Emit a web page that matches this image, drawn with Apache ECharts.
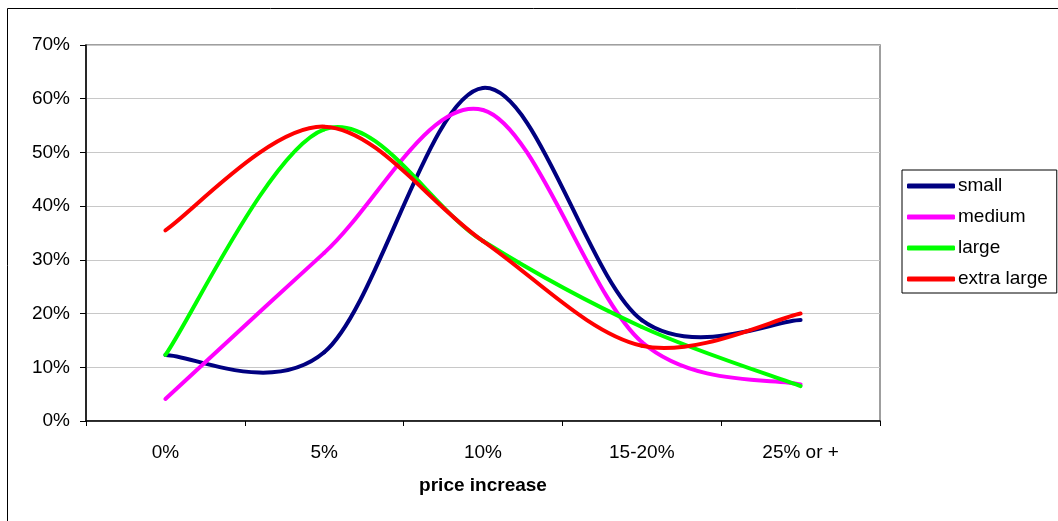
<!DOCTYPE html>
<html>
<head>
<meta charset="utf-8">
<script src="https://cdn.jsdelivr.net/npm/echarts@6/dist/echarts.min.js"></script>
<style>
  html, body { margin: 0; padding: 0; background: #fff; }
  #chart { width: 1058px; height: 521px; }
</style>
</head>
<body>
<div id="chart"></div>
<script>
// Share of respondents by price increase, per company size (percent)
const categories = ['0%', '5%', '10%', '15-20%', '25% or +'];
const small      = [12.3, 12.8, 62.0, 18.8, 18.8];
const medium     = [4.1, 31.3, 57.9, 14.7, 6.8];
const large      = [12.3, 54.3, 33.5, 17.5, 6.5];
const extraLarge = [35.5, 54.8, 33.5, 14.0, 20.0];

const seriesNames  = ['small', 'medium', 'large', 'extra large'];
const seriesData   = [small, medium, large, extraLarge];
const seriesColors = ['#000080', '#ff00ff', '#00ff00', '#ff0000'];

const FONT = 'Liberation Sans, Arial, sans-serif';

// Each data item draws the smoothed segment from its point to the next one,
// using a Catmull-Rom style cubic Bezier (tangent = (next - prev) / 6).
function makeRenderItem(color) {
  return function (params, api) {
    const i = params.dataIndexInside;
    const n = params.dataInsideLength;
    if (i >= n - 1) return null;
    const pt = (k) => {
      const kk = Math.max(0, Math.min(n - 1, k));
      return api.coord([api.value(0, kk), api.value(1, kk)]);
    };
    const p0 = pt(i - 1), p1 = pt(i), p2 = pt(i + 1), p3 = pt(i + 2);
    const t = 1 / 6;
    return {
      type: 'bezierCurve',
      shape: {
        x1: p1[0], y1: p1[1],
        x2: p2[0], y2: p2[1],
        cpx1: p1[0] + (p2[0] - p0[0]) * t,
        cpy1: p1[1] + (p2[1] - p0[1]) * t,
        cpx2: p2[0] - (p3[0] - p1[0]) * t,
        cpy2: p2[1] - (p3[1] - p1[1]) * t
      },
      style: { stroke: color, lineWidth: 4, fill: null, lineCap: 'round', lineJoin: 'round' },
      silent: true
    };
  };
}

const chart = echarts.init(document.getElementById('chart'), null, { renderer: 'canvas' });

chart.setOption({
  backgroundColor: '#ffffff',
  animation: false,
  textStyle: { fontFamily: FONT },
  graphic: [{
    type: 'rect',
    shape: { x: 7.5, y: 8.5, width: 1060, height: 520 },
    style: { fill: 'none', stroke: '#000', lineWidth: 1 },
    silent: true,
    z: -10
  }],
  grid: {
    left: 86, top: 45, right: 178, bottom: 100,
    show: true, borderColor: '#808080', borderWidth: 1.5,
    backgroundColor: 'transparent'
  },
  legend: {
    orient: 'vertical',
    left: 902, top: 170,
    padding: [6, 9, 4, 5],
    itemGap: 11,
    itemWidth: 48, itemHeight: 5,
    icon: 'roundRect',
    borderColor: '#000', borderWidth: 1,
    textStyle: { fontFamily: FONT, fontSize: 19, color: '#000', lineHeight: 20, padding: [0, 0, 0, -2] },
    data: seriesNames
  },
  xAxis: {
    type: 'category',
    data: categories,
    boundaryGap: true,
    name: 'price increase',
    nameLocation: 'middle',
    nameGap: 55,
    nameTextStyle: { fontFamily: FONT, fontSize: 19, fontWeight: 'bold', color: '#000' },
    axisLine: { lineStyle: { color: '#000', width: 1.5 } },
    axisTick: { show: true, alignWithLabel: false, length: 5, lineStyle: { color: '#000' } },
    axisLabel: { fontFamily: FONT, fontSize: 19, color: '#000', margin: 22 },
    splitLine: { show: false }
  },
  yAxis: {
    type: 'value',
    min: 0, max: 70, interval: 10,
    axisLine: { show: true, lineStyle: { color: '#000', width: 1.5 } },
    axisTick: { show: true, length: 6, lineStyle: { color: '#000' } },
    axisLabel: { fontFamily: FONT, fontSize: 19, color: '#000', margin: 16, formatter: '{value}%' },
    splitLine: { show: true, lineStyle: { color: '#c8c8c8', width: 1 } }
  },
  series: seriesNames.map((name, i) => ({
    name: name,
    type: 'custom',
    renderItem: makeRenderItem(seriesColors[i]),
    data: categories.map((c, k) => [c, seriesData[i][k]]),
    encode: { x: 0, y: 1 },
    itemStyle: { color: seriesColors[i] },
    clip: true,
    z: 2 + i
  }))
});
</script>
</body>
</html>
